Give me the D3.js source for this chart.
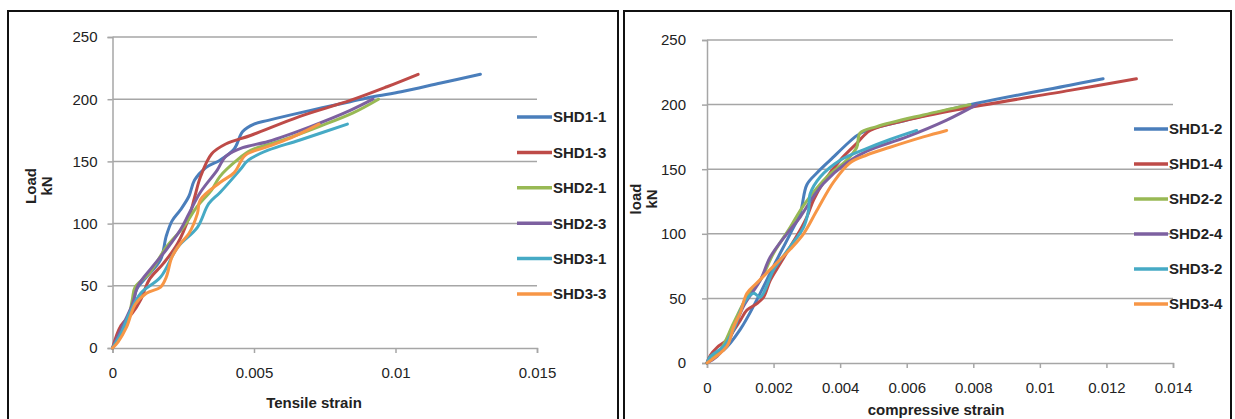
<!DOCTYPE html>
<html>
<head>
<meta charset="utf-8">
<script src="https://cdn.jsdelivr.net/npm/d3@7"></script>
<style>
  html, body { margin: 0; padding: 0; background: #fff; }
  svg { display: block; }
  text { font-family: "Liberation Sans", Arial, sans-serif; fill: #222; }
</style>
</head>
<body>
<svg id="chart" width="1235" height="419"></svg>
<script>
// Load–strain curves for the SHD specimens (strain, load in kN)
const seriesNamesTensile = ["SHD1-1", "SHD1-3", "SHD2-1", "SHD2-3", "SHD3-1", "SHD3-3"];
const seriesNamesCompressive = ["SHD1-2", "SHD1-4", "SHD2-2", "SHD2-4", "SHD3-2", "SHD3-4"];
const seriesColors = ["#4a7ebb", "#be4b48", "#98b954", "#7d60a0", "#46aac5", "#f79646"];

const shd1_1 = [[0,0],[0.0004,15],[0.0007,32],[0.00085,47],[0.0012,57],[0.0017,71],[0.0019,90],[0.0021,102],[0.0024,111],[0.0027,122],[0.0029,135],[0.0033,145],[0.0038,151],[0.0043,160],[0.0046,174],[0.005,180],[0.0055,183],[0.007,191],[0.0084,198],[0.0092,202],[0.0102,206],[0.0116,213],[0.013,220]];
const shd1_3 = [[0,0],[0.0003,18],[0.0007,28],[0.001,39],[0.0013,55],[0.0018,68],[0.0023,84],[0.0027,105],[0.0029,121],[0.0031,137],[0.0035,156],[0.004,164],[0.0049,171],[0.0066,186],[0.0084,199],[0.0097,210],[0.0108,220]];
const shd2_1 = [[0,0],[0.0003,12],[0.0006,28],[0.0007,39],[0.0008,49],[0.0013,60],[0.0019,81],[0.0025,97],[0.003,114],[0.0035,127],[0.0038,138],[0.0044,151],[0.0049,159],[0.006,167],[0.0073,178],[0.0085,189],[0.0094,200]];
const shd2_3 = [[0,0],[0.0004,20],[0.0007,35],[0.0009,50],[0.0014,65],[0.0019,79],[0.0024,95],[0.0027,108],[0.0031,125],[0.0037,143],[0.004,154],[0.0046,161],[0.0055,166],[0.007,178],[0.0084,191],[0.0092,200]];
const shd3_1 = [[0,0],[0.0003,12],[0.0006,28],[0.001,44],[0.0017,57],[0.0023,81],[0.003,97],[0.0034,116],[0.0038,125],[0.0045,143],[0.0048,151],[0.0055,159],[0.0066,167],[0.0083,180]];
const shd3_3 = [[0,0],[0.0002,5],[0.0005,17],[0.0008,35],[0.0012,44],[0.0017,49],[0.0019,57],[0.0021,73],[0.0024,84],[0.0027,92],[0.003,108],[0.0031,119],[0.0038,133],[0.0043,141],[0.0047,155],[0.0055,162],[0.0064,170],[0.0073,180]];

const shd1_2 = [[0,0],[0.0001,5],[0.0005,10],[0.001,26],[0.0015,49],[0.002,75],[0.0025,100],[0.0028,116],[0.003,138],[0.0033,147],[0.0037,157],[0.0045,176],[0.0048,180],[0.006,188],[0.0081,201],[0.0109,215],[0.0119,220]];
const shd1_4 = [[0,0],[0.0001,6],[0.0003,12],[0.0006,18],[0.001,33],[0.0012,41],[0.0015,46],[0.0017,51],[0.0019,64],[0.0022,77],[0.0025,90],[0.0028,103],[0.003,113],[0.0032,126],[0.0035,140],[0.004,157],[0.0045,170],[0.0049,180],[0.006,188],[0.0075,196],[0.0109,211],[0.0129,220]];
const shd2_2 = [[0,0],[0.0004,10],[0.0008,31],[0.0012,51],[0.0016,64],[0.002,85],[0.0025,105],[0.0028,118],[0.0031,129],[0.0036,144],[0.0042,157],[0.0045,167],[0.0046,178],[0.0051,183],[0.0065,192],[0.0079,200]];
const shd2_4 = [[0,0],[0.0003,5],[0.0007,20],[0.0011,44],[0.0016,64],[0.0019,82],[0.0024,100],[0.0028,113],[0.0032,129],[0.0035,139],[0.0042,155],[0.0048,164],[0.006,175],[0.0072,188],[0.0081,200]];
const shd3_2 = [[0,0],[0.0001,5],[0.0005,13],[0.0008,26],[0.0011,46],[0.0014,54],[0.0016,51],[0.002,72],[0.0025,90],[0.0029,105],[0.00305,118],[0.0031,131],[0.0034,144],[0.004,157],[0.0047,165],[0.0055,173],[0.0063,180]];
const shd3_4 = [[0,0],[0.0006,13],[0.0008,28],[0.001,39],[0.0012,54],[0.0015,62],[0.002,75],[0.0025,88],[0.0029,100],[0.0033,118],[0.0038,140],[0.0043,155],[0.0048,161],[0.0055,167],[0.0065,175],[0.0072,180]];

const loadTicks = [0, 50, 100, 150, 200, 250];
const tensileTicks = [0, 0.005, 0.01, 0.015];
const tensileTickLabels = ["0", "0.005", "0.01", "0.015"];
const compressiveTicks = [0, 0.002, 0.004, 0.006, 0.008, 0.01, 0.012, 0.014];
const compressiveTickLabels = ["0", "0.002", "0.004", "0.006", "0.008", "0.01", "0.012", "0.014"];

const svg = d3.select("#chart");

function drawPanel(cfg) {
  const g = svg.append("g");

  // panel frame
  g.append("rect")
    .attr("x", cfg.frame[0]).attr("y", cfg.frame[1])
    .attr("width", cfg.frame[2]).attr("height", cfg.frame[3])
    .attr("fill", "#fff").attr("stroke", "#111").attr("stroke-width", 2);

  const x = d3.scaleLinear().domain([0, cfg.xMax]).range([cfg.left, cfg.right]);
  const y = d3.scaleLinear().domain([0, 250]).range([cfg.bottom, cfg.top]);

  // horizontal gridlines
  g.append("g").selectAll("line").data(loadTicks.filter(d => d > 0)).join("line")
    .attr("x1", cfg.left).attr("x2", cfg.right)
    .attr("y1", d => y(d)).attr("y2", d => y(d))
    .attr("stroke", "#a6a6a6").attr("stroke-width", 1.5);

  // y axis
  const yAxis = g.append("g").attr("transform", `translate(${cfg.left},0)`)
    .call(d3.axisLeft(y).tickValues(loadTicks).tickSize(5).tickPadding(cfg.yPad));
  // x axis
  const xAxis = g.append("g").attr("transform", `translate(0,${cfg.bottom})`)
    .call(d3.axisBottom(x).tickValues(cfg.ticks).tickSize(5).tickPadding(14)
      .tickFormat((d, i) => cfg.tickLabels[i]));
  [yAxis, xAxis].forEach(a => {
    a.select(".domain").attr("stroke", "#a6a6a6").attr("stroke-width", 1.5);
    a.selectAll(".tick line").attr("stroke", "#a6a6a6").attr("stroke-width", 1.5);
    a.selectAll(".tick text").attr("font-size", 15).attr("fill", "#333")
      .style("font-family", '"Liberation Sans", Arial, sans-serif');
  });

  // curves
  const line = d3.line().x(d => x(d[0])).y(d => y(d[1])).curve(d3.curveCatmullRom.alpha(0.5));
  g.append("g").selectAll("path").data(cfg.series).join("path")
    .attr("d", d => line(d))
    .attr("fill", "none")
    .attr("stroke", (d, i) => seriesColors[i])
    .attr("stroke-width", 3)
    .attr("stroke-linejoin", "round")
    .attr("stroke-linecap", "round");

  // legend
  const lg = g.append("g").selectAll("g").data(cfg.names).join("g")
    .attr("transform", (d, i) => `translate(${cfg.legX},${cfg.legY + i * cfg.legStep})`);
  lg.append("line").attr("x1", 0).attr("x2", cfg.legLen).attr("y1", 0).attr("y2", 0)
    .attr("stroke", (d, i) => seriesColors[i]).attr("stroke-width", 3.5);
  lg.append("text").attr("x", cfg.legLen + 1).attr("y", 0).attr("dy", "0.36em")
    .attr("font-size", 15).attr("font-weight", "bold").text(d => d);

  // axis titles
  g.append("text").attr("x", cfg.xTitle[0]).attr("y", cfg.xTitle[1])
    .attr("text-anchor", "middle").attr("dy", "0.36em")
    .attr("font-size", 15).attr("font-weight", "bold").text(cfg.xTitleText);
  const yt = g.append("text")
    .attr("transform", `translate(${cfg.yTitle[0]},${cfg.yTitle[1]}) rotate(-90)`)
    .attr("text-anchor", "middle").attr("font-size", 15).attr("font-weight", "bold");
  yt.append("tspan").attr("x", 0).attr("dy", "0.36em").text(cfg.yTitleLines[0]);
  yt.append("tspan").attr("x", 0).attr("dy", "1.05em").text(cfg.yTitleLines[1]);
}

drawPanel({
  frame: [8, 11, 610, 420],
  xMax: 0.015, left: 112.5, right: 537, top: 37, bottom: 348,
  ticks: tensileTicks, tickLabels: tensileTickLabels, yPad: 10,
  series: [shd1_1, shd1_3, shd2_1, shd2_3, shd3_1, shd3_3],
  names: seriesNamesTensile,
  legX: 517, legY: 117, legStep: 35.4, legLen: 35,
  xTitle: [314, 403], xTitleText: "Tensile strain",
  yTitle: [31, 186], yTitleLines: ["Load", "kN"]
});

drawPanel({
  frame: [624, 11, 607, 420],
  xMax: 0.014, left: 707, right: 1173, top: 40, bottom: 363,
  ticks: compressiveTicks, tickLabels: compressiveTickLabels, yPad: 16,
  series: [shd1_2, shd1_4, shd2_2, shd2_4, shd3_2, shd3_4],
  names: seriesNamesCompressive,
  legX: 1134, legY: 129, legStep: 35, legLen: 34,
  xTitle: [936, 410], xTitleText: "compressive strain",
  yTitle: [636, 199], yTitleLines: ["load", "kN"]
});
</script>
</body>
</html>
